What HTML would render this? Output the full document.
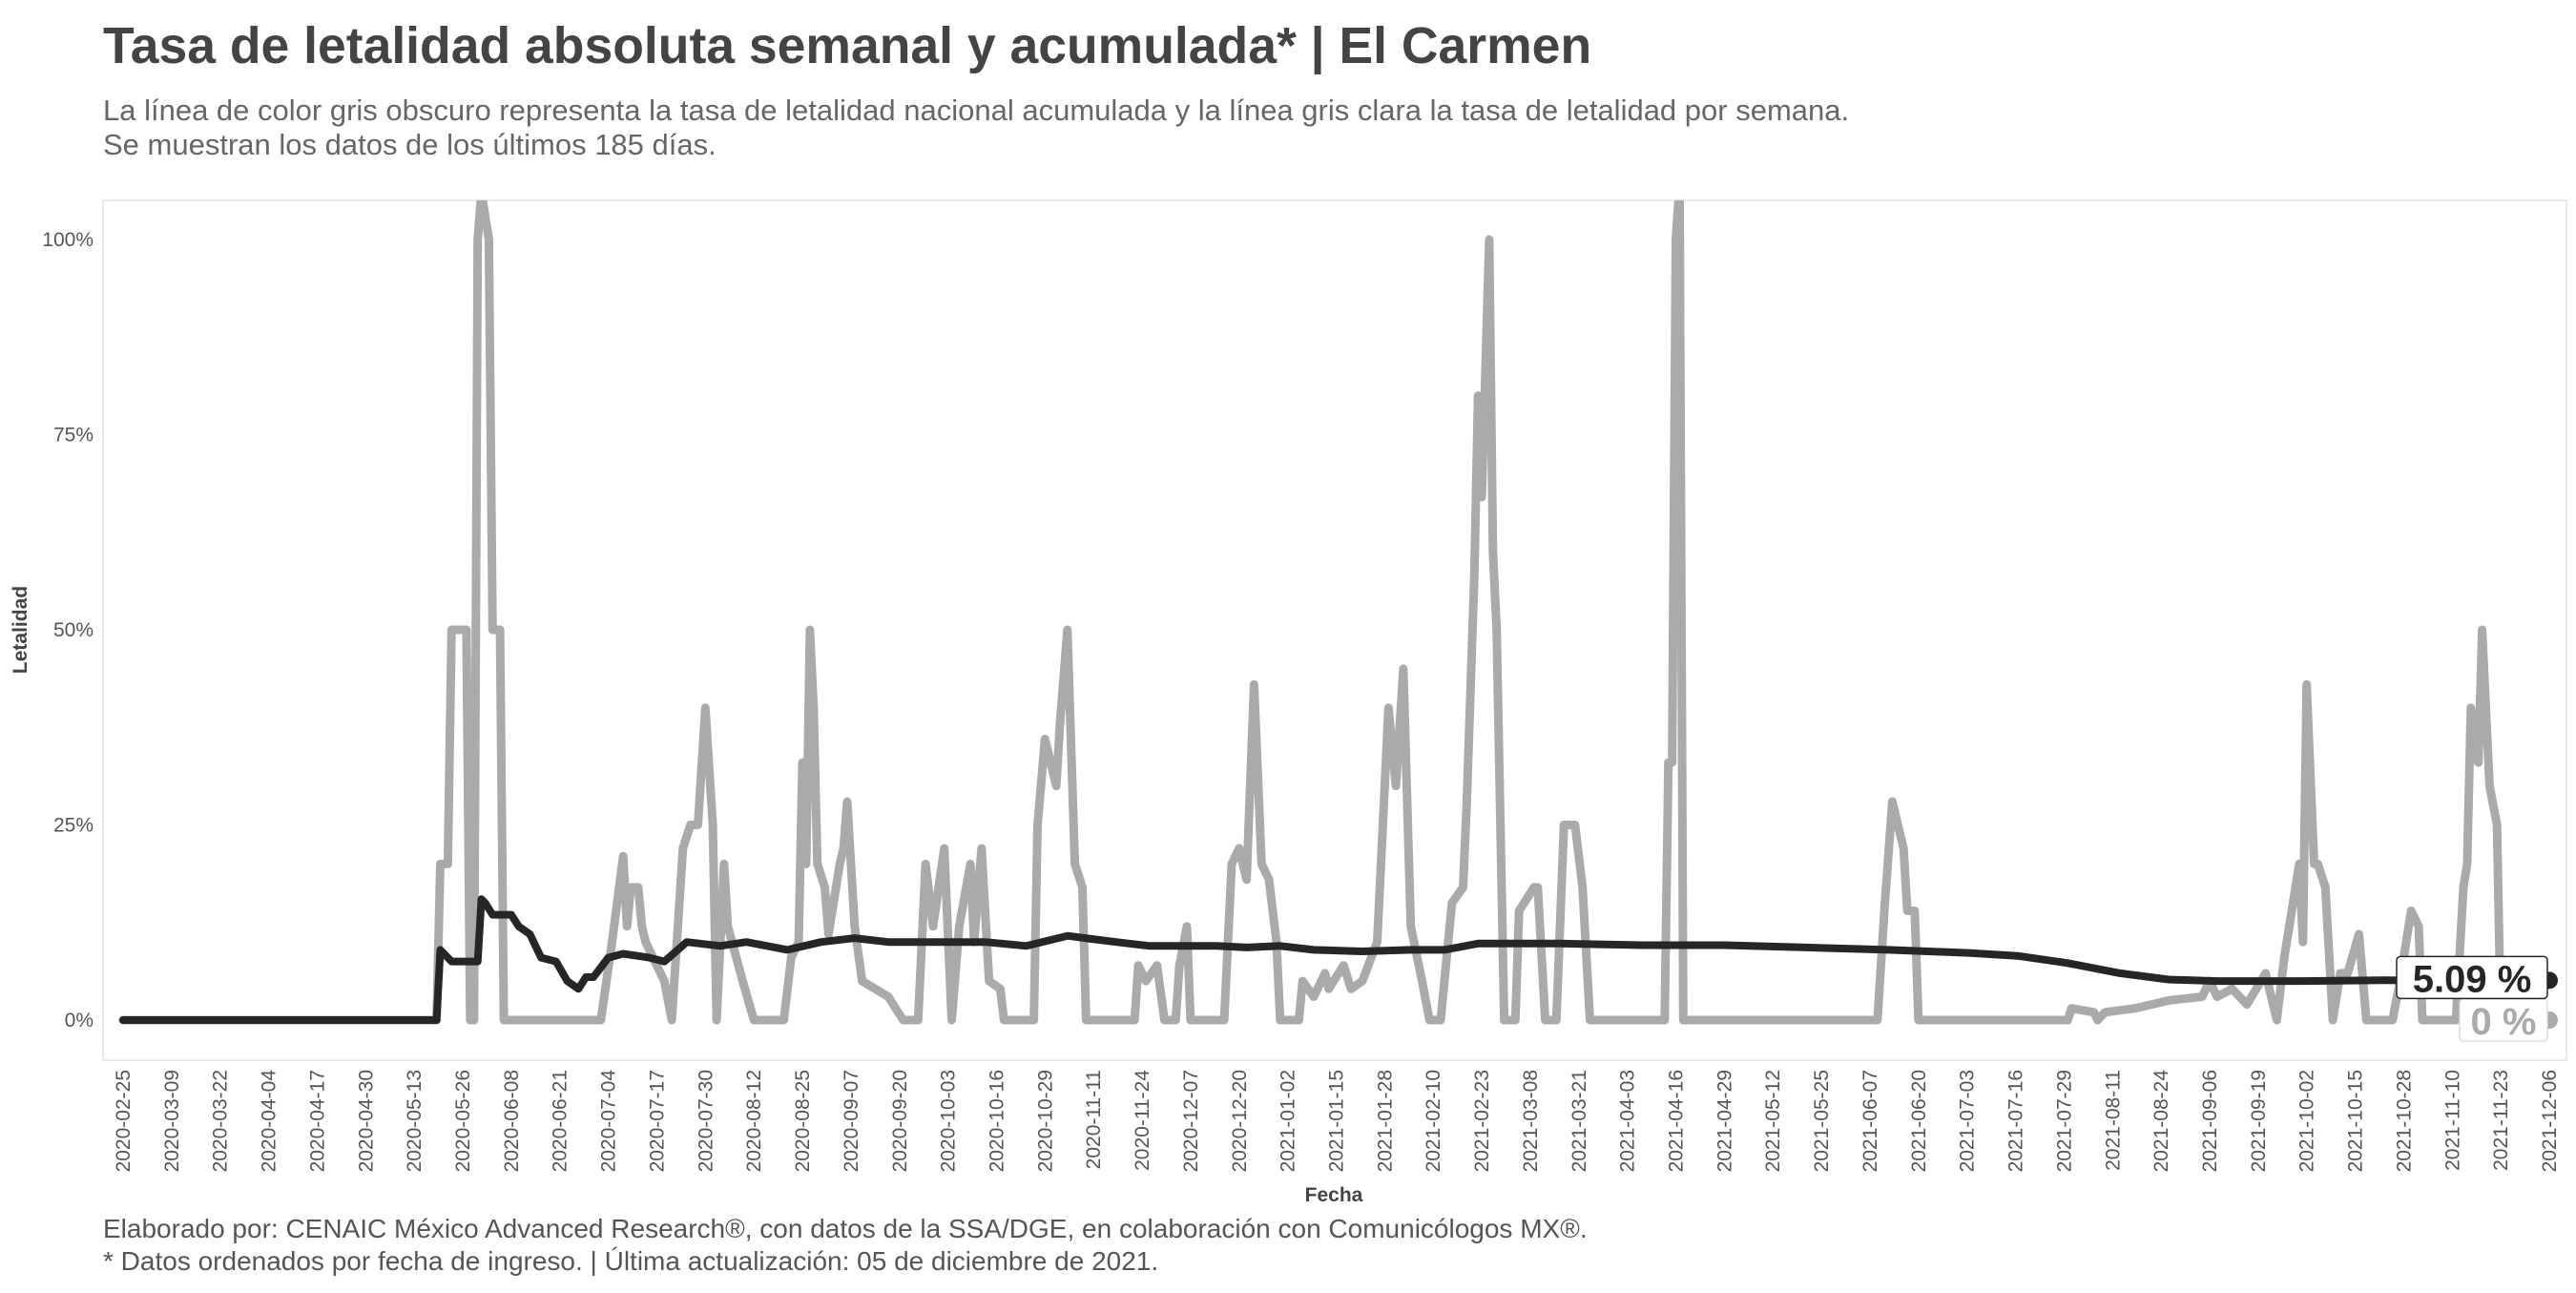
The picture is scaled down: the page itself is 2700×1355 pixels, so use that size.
<!DOCTYPE html>
<html><head><meta charset="utf-8">
<style>
html,body{margin:0;padding:0;background:#fff;}
body{width:2700px;height:1350px;overflow:hidden;font-family:"Liberation Sans",sans-serif;}
</style></head>
<body>
<svg id="chart" width="2700" height="1350" xmlns="http://www.w3.org/2000/svg" font-family="Liberation Sans, sans-serif">
  <text x="108" y="66" font-size="53.5" font-weight="bold" fill="#444">Tasa de letalidad absoluta semanal y acumulada* | El Carmen</text>
  <text x="108" y="126" font-size="31" fill="#666">La línea de color gris obscuro representa la tasa de letalidad nacional acumulada y la línea gris clara la tasa de letalidad por semana.</text>
  <text x="108" y="162" font-size="31" fill="#666">Se muestran los datos de los últimos 185 días.</text>
  <rect x="108" y="210" width="2582" height="901" fill="none" stroke="#e2e2e2" stroke-width="1.5"/>
  <text transform="translate(28,660) rotate(-90)" text-anchor="middle" font-size="21" font-weight="bold" fill="#444">Letalidad</text>
  <text x="1398" y="1259" text-anchor="middle" font-size="21" font-weight="bold" fill="#444">Fecha</text>
  <g id="yticks"></g>
  <g id="xticks"></g>
  <defs><clipPath id="clip"><rect x="108" y="210" width="2582" height="901"/></clipPath></defs>
  <g id="series" clip-path="url(#clip)"></g>
  <g id="labels"></g>
  <text x="108" y="1297" font-size="28" fill="#555">Elaborado por: CENAIC México Advanced Research®, con datos de la SSA/DGE, en colaboración con Comunicólogos MX®.</text>
  <text x="108" y="1331" font-size="28" fill="#555">* Datos ordenados por fecha de ingreso. | Última actualización: 05 de diciembre de 2021.</text>
</svg>
<script>
// day offsets from 2020-02-25 and values (%)
const weeklyDays = [0,84,85,87,88,92,93,94,95,96,98,99,101,102,126,128,131,134,135,136,138,139,140,142,145,147,150,152,154,156,158,159,161,162,166,169,177,179,181,182,183,184,185,186,188,189,192,193,194,196,198,205,209,213,215,217,220,222,224,227,228,230,232,235,236,244,245,247,250,251,253,255,257,258,271,272,274,277,279,282,283,285,286,295,297,299,301,303,305,307,309,310,315,316,319,322,323,327,329,332,336,339,341,343,345,348,350,353,356,359,360,362,363,364,366,367,368,370,373,374,378,379,381,384,386,389,391,393,413,414,415,416,417,418,470,472,474,477,478,480,481,521,522,528,529,531,539,548,557,559,561,565,569,574,577,579,581,583,584,585,587,588,590,592,594,596,599,601,608,610,613,615,616,625,627,628,629,631,632,634,636,637,650];
const weeklyVals = [0,0,20,20,50,50,0,0,100,106,100,50,50,0,0,0,10,21,12,17,17,12,10,8,5,0,22,25,25,40,25,0,20,12,5,0,0,8,10,33,20,50,40,20,17,11,20,22,28,12,5,3,0,0,20,12,22,0,12,20,10,22,5,4,0,0,25,36,30,38,50,20,17,0,0,7,5,7,0,0,7,12,0,0,20,22,18,43,20,18,10,0,0,5,3,6,4,7,4,5,10,40,30,45,12,5,0,0,15,17,28,57,80,67,100,60,50,0,0,14,17,17,0,0,25,25,17,0,0,33,33,100,107,0,0,15,28,22,14,14,0,0,1.5,1,0,1,1.5,2.5,3,5,3,4,2,6,0,8,14,20,10,43,20,20,17,0,6,6,11,0,0,5,14,12,0,0,17,20,40,33,50,30,25,0,0];
const cumDays = [0,84,85,87,88,95,96,97,99,104,106,109,112,116,119,122,124,126,130,134,141,145,151,160,167,178,187,196,205,218,231,242,253,266,275,293,301,310,319,332,345,354,363,385,407,429,451,473,495,508,521,535,548,561,583,605,650];
const cumVals = [0,0,9,8,7.5,7.5,15.5,15,13.5,13.5,12,11,8,7.5,5,4,5.5,5.5,8,8.5,8,7.5,10,9.5,10,9,10,10.5,10,10,10,9.5,10.8,10,9.5,9.5,9.3,9.5,9,8.8,9,9,9.8,9.8,9.6,9.6,9.3,9,8.6,8.2,7.3,6,5.2,5,5,5.1,5.09];
const yTickVals = [0,25,50,75,100];
const yTickLabels = ["0%","25%","50%","75%","100%"];
const startDate = "2020-02-25";
const tickStep = 13, totalDays = 650;

const NS="http://www.w3.org/2000/svg";
const x = d => 129 + d*(2543/650);
const y = v => 1069 - v*8.18;
function el(tag, attrs, parent){const e=document.createElementNS(NS,tag);for(const k in attrs)e.setAttribute(k,attrs[k]);parent.appendChild(e);return e;}

const yg=document.getElementById('yticks');
yTickVals.forEach((v,i)=>{
  const t=el('text',{x:98,y:y(v)+7,'text-anchor':'end','font-size':21,fill:'#555'},yg);
  
  
  t.textContent=yTickLabels[i];
});
const xg=document.getElementById('xticks');
const base=new Date(startDate+"T00:00:00Z");
for(let d=0; d<=totalDays; d+=tickStep){
  const dt=new Date(base.getTime()+d*86400000);
  const s=dt.toISOString().slice(0,10);
  const t=el('text',{transform:`translate(${x(d)+7},1121) rotate(-90)`,'text-anchor':'end','font-size':21,fill:'#555'},xg);
  
  
  t.textContent=s;
}
const sg=document.getElementById('series');
function line(days,vals,color,w,name){
  const p=el('polyline',{points:days.map((d,i)=>x(d).toFixed(1)+','+y(vals[i]).toFixed(1)).join(' '),fill:'none',stroke:color,'stroke-width':w,'stroke-linejoin':'round','stroke-linecap':'round'},sg);
  
  
}
line(weeklyDays,weeklyVals,'#aaaaaa',9,'weekly-lethality-line');
line(cumDays,cumVals,'#262626',8,'cumulative-lethality-line');

const lg=document.getElementById('labels');
const lastW=weeklyVals[weeklyVals.length-1], lastC=cumVals[cumVals.length-1];
const d0=el('circle',{cx:x(totalDays),cy:y(lastW),r:9,fill:'#aaaaaa'},lg);


const d1=el('circle',{cx:x(totalDays),cy:y(lastC),r:9,fill:'#262626'},lg);


const b0=el('rect',{x:2578,y:y(lastW)-22,width:92,height:44,rx:4,fill:'#fff',stroke:'#ddd','stroke-width':1.5},lg);


const t0=el('text',{x:2624,y:y(lastW)+15,'text-anchor':'middle','font-size':40,'font-weight':'bold',fill:'#aaaaaa'},lg);


t0.textContent=lastW+' %';
const b1=el('rect',{x:2512,y:y(lastC)-25,width:158,height:44,rx:4,fill:'#fff',stroke:'#262626','stroke-width':1.5},lg);


const t1=el('text',{x:2591,y:y(lastC)+12,'text-anchor':'middle','font-size':40,'font-weight':'bold',fill:'#262626'},lg);


t1.textContent=lastC.toFixed(2)+' %';
</script>
</body></html>
